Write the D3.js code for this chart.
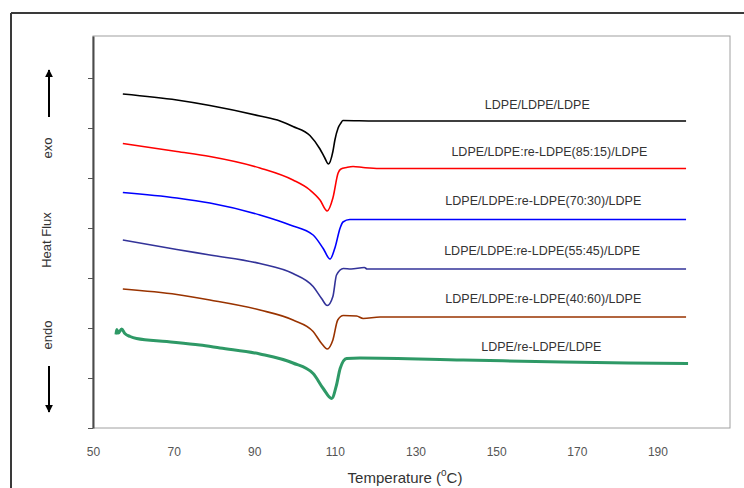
<!DOCTYPE html>
<html>
<head>
<meta charset="utf-8">
<script src="https://cdn.jsdelivr.net/npm/d3@7"></script>
<style>
  html, body { margin: 0; padding: 0; background: #fff; }
  svg { display: block; }
  text { font-family: "Liberation Sans", Arial, sans-serif; }
</style>
</head>
<body>
<svg id="chart" width="744" height="488"></svg>
<script>
// ---------- data ----------
const xTicks = [50, 70, 90, 110, 130, 150, 170, 190];
const seriesNames = [
  "LDPE/LDPE/LDPE",
  "LDPE/LDPE:re-LDPE(85:15)/LDPE",
  "LDPE/LDPE:re-LDPE(70:30)/LDPE",
  "LDPE/LDPE:re-LDPE(55:45)/LDPE",
  "LDPE/LDPE:re-LDPE(40:60)/LDPE",
  "LDPE/re-LDPE/LDPE"
];
const seriesColors = ["#000000", "#ff0000", "#0000ff", "#333399", "#993300", "#2e9966"];

const blackT = [57.4, 70.8, 79.0, 91.4, 96.4, 99.6, 103.8, 106.3, 107.5, 108.4, 109.5, 110.0, 110.8, 111.5, 112.0, 120, 197.1];
const blackV = [6.68, 6.56, 6.45, 6.24, 6.14, 6.03, 5.85, 5.58, 5.40, 5.28, 5.53, 5.76, 6.00, 6.10, 6.15, 6.14, 6.14];

const redT = [57.4, 70.8, 79.0, 91.4, 99.6, 103.8, 106.3, 108.1, 109.5, 110.8, 111.5, 112.9, 114.5, 117.0, 121.0, 197.1];
const redV = [5.69, 5.53, 5.43, 5.20, 4.96, 4.76, 4.56, 4.34, 4.60, 5.10, 5.18, 5.21, 5.23, 5.21, 5.19, 5.19];

const blueT = [57.4, 70.8, 79.0, 91.4, 98.9, 104.6, 107.1, 108.8, 110.0, 111.3, 112.0, 113.7, 197.1];
const blueV = [4.71, 4.60, 4.50, 4.26, 4.06, 3.86, 3.59, 3.38, 3.60, 4.00, 4.12, 4.17, 4.17];

const navyT = [57.4, 70.8, 79.0, 91.4, 99.6, 104.6, 106.7, 108.1, 109.5, 110.4, 112.1, 114.0, 117.3, 118.0, 197.1];
const navyV = [3.76, 3.57, 3.46, 3.29, 3.09, 2.83, 2.59, 2.45, 2.63, 3.06, 3.19, 3.18, 3.21, 3.18, 3.18];

const brownT = [57.4, 70.8, 79.0, 91.4, 99.6, 104.6, 106.7, 108.1, 109.5, 110.7, 112.1, 115.4, 117.0, 121.2, 197.1];
const brownV = [2.78, 2.67, 2.56, 2.36, 2.16, 1.93, 1.69, 1.58, 1.76, 2.16, 2.25, 2.24, 2.19, 2.22, 2.22];

const greenT = [55.7, 55.9, 56.3, 57.1, 57.9, 59.2, 60.8, 68.3, 76.5, 81.5, 91.4, 99.6, 104.6, 107.1, 109.2, 110.4, 111.3, 112.9, 116.2, 141.8, 166.6, 182.7, 197.6];
const greenV = [1.87, 1.97, 1.90, 1.98, 1.89, 1.83, 1.79, 1.73, 1.66, 1.60, 1.48, 1.30, 1.09, 0.79, 0.59, 0.86, 1.19, 1.39, 1.40, 1.36, 1.32, 1.30, 1.29];

const seriesT = [blackT, redT, blueT, navyT, brownT, greenT];
const seriesV = [blackV, redV, blueV, navyV, brownV, greenV];
const labelPos = [[160.2, 6.46], [163.2, 5.52], [161.7, 4.54], [161.4, 3.54], [161.7, 2.58], [161.2, 1.62]];

// ---------- layout ----------
const svg = d3.select("#chart");
const L = 93, R = 730, T = 36, B = 428;
const x = d3.scaleLinear().domain([50, 208]).range([L, R]);
const y = d3.scaleLinear().domain([0, 7.84]).range([B, T]);

// outer frame (top and left)
svg.append("line").attr("x1", 11).attr("x2", 744).attr("y1", 13).attr("y2", 13)
  .attr("stroke", "#3a3a3a").attr("stroke-width", 2);
svg.append("line").attr("x1", 11).attr("x2", 11).attr("y1", 13).attr("y2", 488)
  .attr("stroke", "#3a3a3a").attr("stroke-width", 2);

// plot border
svg.append("rect").attr("x", L).attr("y", T).attr("width", R - L).attr("height", B - T)
  .attr("fill", "none").attr("stroke", "#a0a0a0").attr("stroke-width", 1);

// y axis (no labels)
const yAxis = d3.axisLeft(y).tickValues(d3.range(0, 8)).tickFormat("").tickSize(5).tickSizeOuter(0);
const gy = svg.append("g").attr("transform", `translate(${L},0)`).call(yAxis);
gy.select(".domain").attr("stroke", "#4a4a4a").attr("stroke-width", 2);
gy.selectAll(".tick line").attr("stroke", "#555");

// x axis labels
const xAxis = d3.axisBottom(x).tickValues(xTicks).tickSize(0).tickPadding(19).tickFormat(d3.format("d"));
const gx = svg.append("g").attr("transform", `translate(0,${B})`).call(xAxis);
gx.select(".domain").remove();
gx.selectAll("text").attr("font-size", 12).attr("fill", "#555")
  .style("font-family", '"Liberation Sans", Arial, sans-serif');

// x axis title
const xt = svg.append("text").attr("x", 405).attr("y", 483).attr("text-anchor", "middle")
  .attr("font-size", 15).attr("fill", "#333");
xt.append("tspan").text("Temperature (");
xt.append("tspan").attr("dy", -7).attr("font-size", 10).text("o");
xt.append("tspan").attr("dy", 7).text("C)");

// y axis titles
function vtext(txt, cx, cy, size) {
  svg.append("text").attr("transform", `translate(${cx},${cy}) rotate(-90)`)
    .attr("text-anchor", "middle").attr("dominant-baseline", "central")
    .attr("font-size", size).attr("fill", "#333").text(txt);
}
vtext("Heat Flux", 46, 240, 13);
vtext("exo", 47, 148, 13);
vtext("endo", 47, 335, 13);

// arrows
svg.append("defs").append("marker").attr("id", "ah").attr("viewBox", "0 0 10 10")
  .attr("refX", 9).attr("refY", 5).attr("markerWidth", 4).attr("markerHeight", 4)
  .attr("markerUnits", "strokeWidth").attr("orient", "auto")
  .append("path").attr("d", "M0,0 L10,5 L0,10 z").attr("fill", "#000");
svg.append("line").attr("x1", 49).attr("x2", 49).attr("y1", 117).attr("y2", 70)
  .attr("stroke", "#000").attr("stroke-width", 2).attr("marker-end", "url(#ah)");
svg.append("line").attr("x1", 49).attr("x2", 49).attr("y1", 366).attr("y2", 412)
  .attr("stroke", "#000").attr("stroke-width", 2).attr("marker-end", "url(#ah)");

// curves
const line = d3.line().x(d => x(d[0])).y(d => y(d[1])).curve(d3.curveMonotoneX);
seriesT.forEach((ts, i) => {
  const pts = ts.map((t, j) => [t, seriesV[i][j]]);
  svg.append("path").datum(pts).attr("d", line)
    .attr("fill", "none").attr("stroke", seriesColors[i])
    .attr("stroke-width", i === 5 ? 3 : 1.6)
    .attr("stroke-linejoin", "round");
});

// labels
seriesNames.forEach((n, i) => {
  svg.append("text").attr("x", x(labelPos[i][0])).attr("y", y(labelPos[i][1]))
    .attr("text-anchor", "middle").attr("dominant-baseline", "central")
    .attr("font-size", 12.5).attr("fill", "#333").text(n);
});
</script>
</body>
</html>
